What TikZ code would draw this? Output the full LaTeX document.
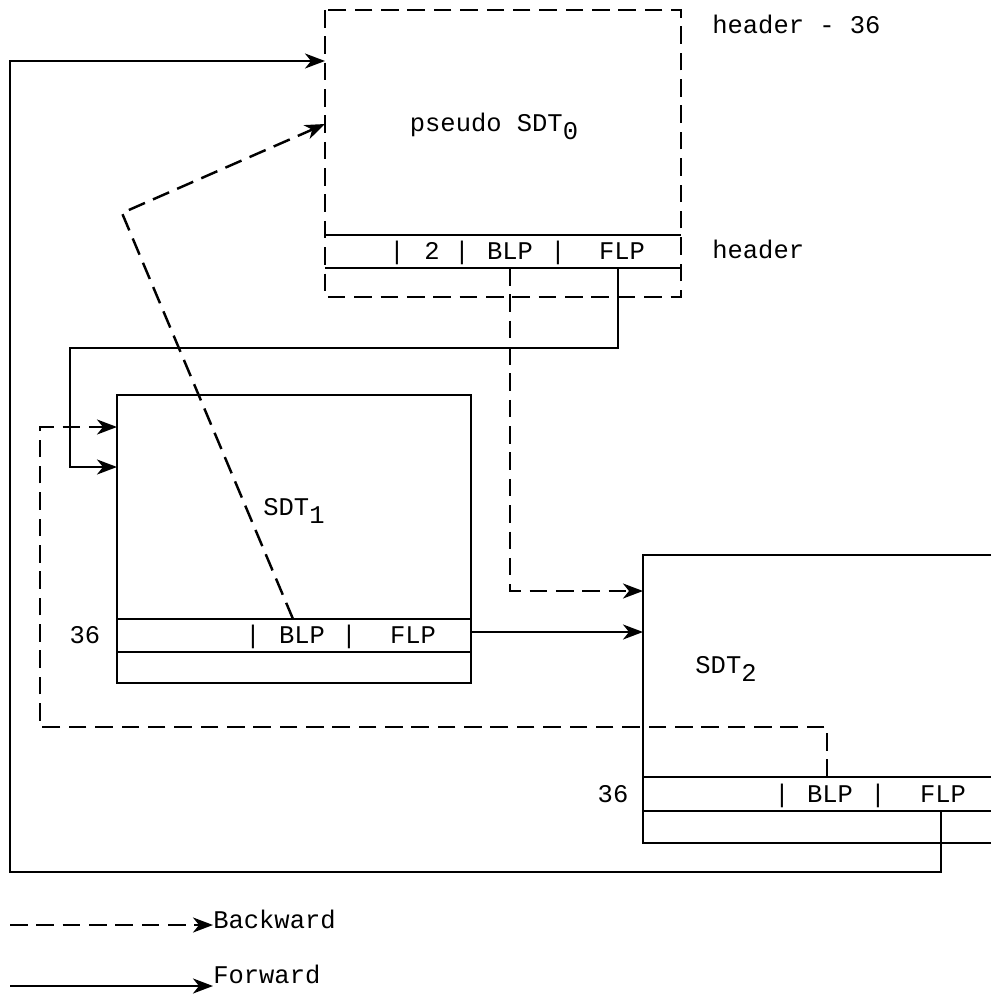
\documentclass[tikz,border=0pt]{standalone}
\usepackage{fontspec}
\setmainfont{Liberation Mono}
\usepackage{tikz}
\usetikzlibrary{arrows.meta,positioning,calc}

\newcommand{\lowidx}[1]{\raisebox{-0.6ex}{#1}}

\begin{document}
\begin{tikzpicture}[x=0.02cm, y=-0.02cm,
    every node/.style={font=\fontsize{14.5}{16}\selectfont, inner sep=0pt, text height=0.62em, text depth=0pt},
    frame/.style={line width=1.5pt},
    dashframe/.style={line width=1.4pt, dash pattern=on 10pt off 5pt},
    fwd/.style={line width=1.4pt, -{Stealth[length=4mm, width=3mm, inset=1.2mm]}},
    bwd/.style={line width=1.4pt, dash pattern=on 10pt off 5pt, -{Stealth[length=4mm, width=3mm, inset=1.2mm]}}]
    \useasboundingbox (0,0) rectangle (991,1000);

    % pseudo SDT_0
    \draw[dashframe] (325,10) rectangle (681,297);
    \draw[frame] (325,235) -- (681,235);
    \draw[frame] (325,268) -- (681,268);
    \node (s0lbl) at (494,126) {pseudo SDT\lowidx{0}};
    \node (s0bar1) at (397,254) {|};
    \node (s0two) at (432,254) {2};
    \node (s0bar2) at (462,254) {|};
    \node (s0blptxt) at (510,254) {BLP};
    \node (s0bar3) at (558,254) {|};
    \node (s0flptxt) at (622,254) {FLP};
    \node[right] (hdr36) at (712,28) {header - 36};
    \node[right] (hdr) at (712,253) {header};
    \coordinate (s0blp) at (510,268);
    \coordinate (s0flp) at (618,268);
    \coordinate (s0in1) at (325,61);
    \coordinate (s0in2) at (325,124);

    % SDT_1
    \draw[frame] (117,395) rectangle (471,683);
    \draw[frame] (117,619) -- (471,619);
    \draw[frame] (117,652) -- (471,652);
    \node (s1lbl) at (294,510) {SDT\lowidx{1}};
    \node (s1num) at (85,638) {36};
    \node (s1bar1) at (253,638) {|};
    \node (s1blptxt) at (302,638) {BLP};
    \node (s1bar2) at (349,638) {|};
    \node (s1flptxt) at (413,638) {FLP};
    \coordinate (s1blp) at (293,619);
    \coordinate (s1flp) at (471,632);
    \coordinate (s1in1) at (117,427);
    \coordinate (s1in2) at (117,467);

    % SDT_2 (runs off the right edge)
    \draw[frame] (991,555) -| (643,843) -- (991,843);
    \draw[frame] (643,777) -- (991,777);
    \draw[frame] (643,811) -- (991,811);
    \node (s2lbl) at (726,668) {SDT\lowidx{2}};
    \node (s2num) at (613,797) {36};
    \node (s2bar1) at (782,797) {|};
    \node (s2blptxt) at (830,797) {BLP};
    \node (s2bar2) at (878,797) {|};
    \node (s2flptxt) at (943,797) {FLP};
    \coordinate (s2blp) at (827,777);
    \coordinate (s2flp) at (941,811);
    \coordinate (s2in1) at (643,591);
    \coordinate (s2in2) at (643,632);

    % links
    \draw[fwd] (s2flp) |- (10,872) |- (s0in1);
    \draw[bwd] (s1blp) -- (122,213) -- (s0in2);
    \draw[fwd] (s0flp) |- (70,348) |- (s1in2);
    \draw[bwd] (s0blp) |- (s2in1);
    \draw[bwd] (s2blp) |- (40,727) |- (s1in1);
    \draw[fwd] (s1flp) -- (s2in2);

    % legend
    \coordinate (bkstart) at (10,925);
    \coordinate (fwstart) at (10,986);
    \node[right] (bklbl) at (213,923) {Backward};
    \node[right] (fwlbl) at (213,978) {Forward};
    \draw[bwd] (bkstart) -- (bkstart -| bklbl.west);
    \draw[fwd] (fwstart) -- (fwstart -| fwlbl.west);
\end{tikzpicture}
\end{document}
